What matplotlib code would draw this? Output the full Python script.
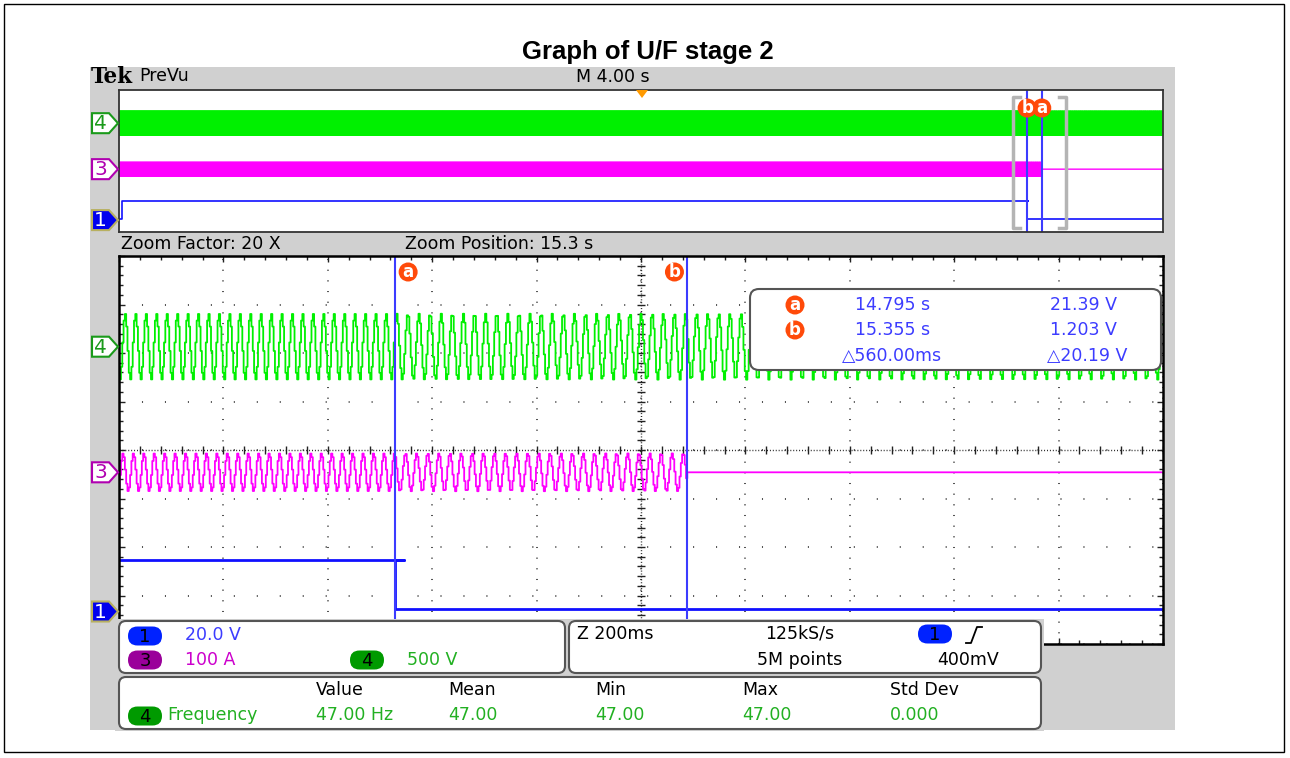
import numpy as np
import matplotlib
matplotlib.use('Agg')
import matplotlib.pyplot as plt
from matplotlib.patches import FancyBboxPatch, Polygon, Circle, Rectangle

W, H = 1290, 758

# ---- values ----
record = (-20.0, 20.0)            # s, M 4.00 s/div, trigger at centre
zoom_window = (14.266, 16.266)    # s, Z 200 ms/div
cursor_a = 14.795                 # s
cursor_b = 15.355                 # s

freq_before = 50.0                # Hz, before cursor a
freq_after = 47.0                 # Hz, measured value

ch1_scale, ch1_pos = 20.0, -3.33  # V/div, div
ch1_t = [-20.0, -19.9, -19.9, 14.812, 14.795, 14.795, 20.0]
ch1_v = [1.203, 1.203, 21.39, 21.39, 21.39, 1.203, 1.203]

ch3_scale, ch3_pos = 100.0, -0.46  # A/div, div
ch3_peak = 39.0                    # A

ch4_scale, ch4_pos = 500.0, 2.13   # V/div, div
ch4_peak = 340.0                   # V

readout_rows = [('a', '14.795 s', '21.39 V'), ('b', '15.355 s', '1.203 V')]
readout_delta = ('\u25b3560.00ms', '\u25b320.19 V')
meas_names = ['Value', 'Mean', 'Min', 'Max', 'Std Dev']
meas_vals = ['47.00 Hz', '47.00', '47.00', '47.00', '0.000']

GREEN = '#00f000'
MAGENTA = '#ff00ff'
BLUE = '#1010ff'
CURS = '#3c3cff'
ORANGE = '#ff4a0a'
GRAY = '#d0d0d0'
FONT = 'DejaVu Sans'


def phase(t):
    return 2 * np.pi * np.where(t < cursor_a, freq_before * (t - cursor_a),
                                freq_after * (t - cursor_a))


def ch4(t):
    return ch4_pos + ch4_peak * np.sin(phase(t) + 0.6) / ch4_scale


def ch3(t):
    v = np.where(t < cursor_b, ch3_peak * np.sin(phase(t) + 1.9), 0.0)
    return ch3_pos + v / ch3_scale


def ch1(t, v):
    return ch1_pos + np.array(v) / ch1_scale


fig = plt.figure(figsize=(W / 100, H / 100), dpi=100)


def frac(x0, y0, x1, y1):
    return [x0 / W, 1 - y1 / H, (x1 - x0) / W, (y1 - y0) / H]


# background (pixel coordinates)
bg = fig.add_axes([0, 0, 1, 1], zorder=0)
bg.set_xlim(0, W)
bg.set_ylim(H, 0)
bg.axis('off')
bg.add_patch(Rectangle((4, 4), 1280, 748, fc='white', ec='black', lw=1))
bg.add_patch(Rectangle((90, 67), 1085, 663, fc=GRAY, ec='none'))
bg.text(648, 52, 'Graph of U/F stage 2', ha='center', va='center',
        fontsize=18.5, fontweight='bold', family='Liberation Sans')
bg.text(91, 77, 'Tek', ha='left', va='center', fontsize=15.5,
        fontweight='bold', family='DejaVu Serif')
bg.text(139, 76, 'PreVu', ha='left', va='center', fontsize=12.5, family=FONT)
bg.text(576, 77, 'M 4.00 s', ha='left', va='center', fontsize=12.5, family=FONT)
bg.text(121, 244, 'Zoom Factor: 20 X', ha='left', va='center', fontsize=12.5, family=FONT)
bg.text(405, 244, 'Zoom Position: 15.3 s', ha='left', va='center', fontsize=12.5, family=FONT)

# ---- overview (PreVu) panel ----
ov = fig.add_axes(frac(119, 90, 1163, 232), zorder=1)
ov.set_xlim(*record)
ov.set_ylim(-4, 4)
ov.set_xticks([])
ov.set_yticks([])
for s in ov.spines.values():
    s.set_color('#333333')
    s.set_linewidth(1.3)
t_all = np.arange(record[0], record[1], 0.001)
ov.plot(t_all, ch4(t_all), color=GREEN, lw=1)
ov.plot(t_all, ch3(t_all), color=MAGENTA, lw=1)
ov.plot(ch1_t, ch1(ch1_t, ch1_v), color=BLUE, lw=1.2)
for c in (cursor_a, cursor_b):
    ov.axvline(c, color=CURS, lw=1.5)
# zoom window brackets
zl, zr = zoom_window
ov.plot([zl + 0.25, zl, zl, zl + 0.25], [3.6, 3.6, -3.75, -3.75], color='#b4b4b4', lw=2.5)
ov.plot([zr - 0.25, zr, zr, zr - 0.25], [3.6, 3.6, -3.75, -3.75], color='#b4b4b4', lw=2.5)

# ---- zoomed main panel ----
ax = fig.add_axes(frac(119, 256, 1163, 644), zorder=1)
ax.set_xlim(*zoom_window)
ax.set_ylim(-4, 4)
div = (zoom_window[1] - zoom_window[0]) / 10
ax.set_xticks(zoom_window[0] + div * np.arange(11))
ax.set_xticks(zoom_window[0] + div / 5 * np.arange(51), minor=True)
ax.set_yticks(np.arange(-4, 5))
ax.set_yticks(np.arange(-4, 4.01, 0.2), minor=True)
ax.tick_params(which='both', direction='in', top=True, right=True,
               labelleft=False, labelbottom=False, color='#222222', width=1)
ax.tick_params(which='major', length=4)
ax.tick_params(which='minor', length=3)
ax.xaxis.grid(True, color='#222222', lw=1.1, linestyle=(0, (0.7, 6.28)))
ax.yaxis.grid(True, color='#222222', lw=1.1, linestyle=(0, (0.7, 14.33)))
xc = zoom_window[0] + 5 * div
ax.axvline(xc, color='#222222', lw=1, linestyle=(0, (0.7, 1.4)))
ax.axhline(0, color='#222222', lw=1, linestyle=(0, (0.7, 1.4)))
ax.plot(np.full(41, xc), np.arange(-4, 4.01, 0.2), ls='none', marker='_', ms=6,
        color='#222222', mew=1)
ax.plot(zoom_window[0] + div / 5 * np.arange(51), np.zeros(51), ls='none', marker='|',
        ms=6, color='#222222', mew=1)
for s in ax.spines.values():
    s.set_color('black')
    s.set_linewidth(1.8)

t_z = np.arange(zoom_window[0], zoom_window[1], 0.0025)
ax.plot(t_z, ch4(t_z), color=GREEN, lw=1.3, drawstyle='steps-mid')
ax.plot(t_z, ch3(t_z), color=MAGENTA, lw=1.3, drawstyle='steps-mid')
ax.plot(ch1_t, ch1(ch1_t, ch1_v), color=BLUE, lw=2)
for c in (cursor_a, cursor_b):
    ax.axvline(c, color=CURS, lw=1.5)

# ---- overlay: boxes, labels, markers (pixel coordinates) ----
top = fig.add_axes([0, 0, 1, 1], zorder=5)
top.set_xlim(0, W)
top.set_ylim(H, 0)
top.axis('off')
top.patch.set_alpha(0)


def ypix(axes, d):
    return H - axes.transData.transform((axes.get_xlim()[0], d))[1]


def xpix(axes, t):
    return axes.transData.transform((t, 0))[0]


def box(x0, y0, x1, y1, r=7):
    top.add_patch(FancyBboxPatch((x0, y0), x1 - x0, y1 - y0,
                                 boxstyle='round,pad=0,rounding_size=%d' % r,
                                 fc='white', ec='#555555', lw=1.5))


def pill(xc, yc, num, fc, tc='black', w=34, h=19):
    top.add_patch(FancyBboxPatch((xc - w / 2, yc - h / 2), w, h,
                                 boxstyle='round,pad=0,rounding_size=%g' % (h / 2),
                                 fc=fc, ec='none'))
    top.text(xc, yc + 0.5, num, ha='center', va='center', fontsize=13,
             color=tc, family=FONT)


def tag(xc, yc, letter, r=9.5):
    top.add_patch(Circle((xc, yc), r, fc=ORANGE, ec='none'))
    top.text(xc, yc, letter, ha='center', va='center', fontsize=12,
             fontweight='bold', color='white', family=FONT)


def marker(yc, num, fc, ec, tc):
    top.add_patch(Polygon([(92, yc - 10), (109, yc - 10), (118, yc), (109, yc + 10), (92, yc + 10)],
                          closed=True, fc=fc, ec=ec, lw=1.5))
    top.text(100.5, yc + 0.5, num, ha='center', va='center', fontsize=14.5,
             color=tc, family=FONT)


for axes in (ov, ax):
    marker(ypix(axes, ch4_pos), '4', 'white', '#1a9a1a', '#1a9a1a')
    marker(ypix(axes, ch3_pos), '3', 'white', '#b000b0', '#b000b0')
    marker(ypix(axes, ch1_pos), '1', '#0000ee', '#b8b060', 'white')

# trigger marker
top.add_patch(Polygon([(636, 90), (648, 90), (642, 98)], closed=True, fc='#ff9a00', ec='none'))

# cursor tags (overview: "a" under "b")
tag(xpix(ov, cursor_b), 108, 'a')
tag(xpix(ov, cursor_a), 108, 'b')
tag(xpix(ax, cursor_a) + 13, 272, 'a')
tag(xpix(ax, cursor_b) - 13, 272, 'b')

# cursor readout
box(750, 289, 1161, 370, r=9)
for i, (lab, tv, vv) in enumerate(readout_rows):
    y = 305 + 25 * i
    tag(795, y, lab)
    top.text(855, y, tv, ha='left', va='center', fontsize=12.5, color=CURS, family=FONT)
    top.text(1117, y, vv, ha='right', va='center', fontsize=12.5, color=CURS, family=FONT)
top.text(842, 356, readout_delta[0], ha='left', va='center', fontsize=12.5, color=CURS, family=FONT)
top.text(1127, 356, readout_delta[1], ha='right', va='center', fontsize=12.5, color=CURS, family=FONT)

# bottom info boxes
top.add_patch(Rectangle((115, 619), 929, 112, fc=GRAY, ec='none'))
box(119, 621, 565, 673)
box(569, 621, 1041, 673)
box(119, 677, 1041, 729)

pill(145, 636, '1', '#0022ff')
top.text(185, 635, '20.0 V', ha='left', va='center', fontsize=12.5, color=CURS, family=FONT)
pill(145, 660, '3', '#9a009a')
top.text(185, 660, '100 A', ha='left', va='center', fontsize=12.5, color='#cc00cc', family=FONT)
pill(367, 660, '4', '#009a00')
top.text(407, 660, '500 V', ha='left', va='center', fontsize=12.5, color='#22b022', family=FONT)

top.text(577, 634, 'Z 200ms', ha='left', va='center', fontsize=12.5, family=FONT)
top.text(765, 634, '125kS/s', ha='left', va='center', fontsize=12.5, family=FONT)
top.text(757, 660, '5M points', ha='left', va='center', fontsize=12.5, family=FONT)
pill(935, 634, '1', '#0022ff')
top.plot([966, 971, 977, 982], [643, 643, 627, 627], color='black', lw=1.3)
top.text(937, 660, '400mV', ha='left', va='center', fontsize=12.5, family=FONT)

xs = [316, 448, 595, 742, 890]
pill(145, 716, '4', '#009a00')
top.text(167, 715, 'Frequency', ha='left', va='center', fontsize=12.5, color='#22b022', family=FONT)
for x, name, val in zip(xs, meas_names, meas_vals):
    top.text(x, 690, name, ha='left', va='center', fontsize=12.5, family=FONT)
    top.text(x, 715, val, ha='left', va='center', fontsize=12.5, color='#22b022', family=FONT)

fig.savefig('out.png', dpi=100)
